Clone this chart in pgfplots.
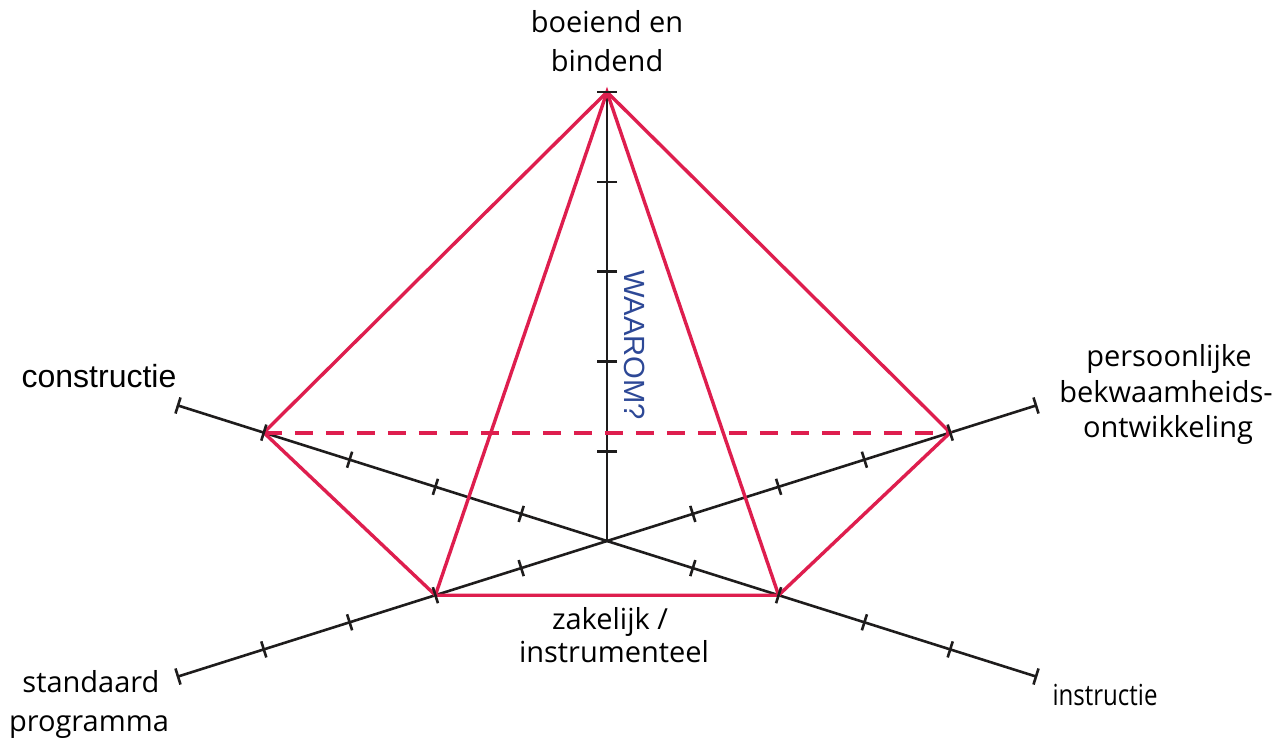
\documentclass[border=0pt]{standalone}
\usepackage{pgfplots}
\pgfplotsset{compat=1.18}
\usepackage{fontspec}
\setmainfont{Open Sans}
\newfontfamily\arial{Liberation Sans}
\definecolor{pyr}{RGB}{222,30,78}
\definecolor{waarom}{RGB}{45,72,150}
\definecolor{axisblack}{RGB}{30,28,28}

\begin{document}
\begin{tikzpicture}
\begin{axis}[
    scale only axis,
    width=639.5pt, height=370.5pt,
    xmin=0, xmax=1279, ymin=0, ymax=741,
    hide axis, clip=false,
    ]
% axis lines
\addplot[axisblack, line width=1.3pt] coordinates {(607,200) (607,649)};
\addplot[axisblack, line width=1.3pt] coordinates {(178,335.5) (1036,64.5)};
\addplot[axisblack, line width=1.3pt] coordinates {(178,64.5) (1036,335.5)};
% tick marks
\addplot[only marks, mark=-, mark size=5pt, mark options={axisblack, line width=1.3pt}]
    coordinates {(607,289.8) (607,379.6) (607,469.4) (607,559.2) (607,649)};
\addplot[only marks, mark=|, mark size=4.2pt, mark options={axisblack, line width=1.3pt, rotate=-17.5}]
    coordinates {(521.2,227.1) (435.4,254.2) (349.6,281.3) (263.8,308.4) (178,335.5)
                 (692.8,172.9) (778.6,145.8) (864.4,118.7) (950.2,91.6) (1036,64.5)};
\addplot[only marks, mark=|, mark size=4.2pt, mark options={axisblack, line width=1.3pt, rotate=17.5}]
    coordinates {(521.2,172.9) (435.4,145.8) (349.6,118.7) (263.8,91.6) (178,64.5)
                 (692.8,227.1) (778.6,254.2) (864.4,281.3) (950.2,308.4) (1036,335.5)};
% pyramid
\addplot[pyr, line width=1.7pt, line join=round] coordinates {
    (263.8,308.4) (607,649) (950.2,308.4) (778.6,145.8) (435.4,145.8) (263.8,308.4)};
\addplot[pyr, line width=1.7pt] coordinates {(435.4,145.8) (607,649) (778.6,145.8)};
\addplot[pyr, line width=2.1pt, dash pattern=on 9pt off 6.5pt] coordinates {(263.8,308.4) (950.2,308.4)};
% labels
\node[anchor=base, font=\fontsize{14.5}{17}\selectfont] at (axis cs:607,708) {boeiend en};
\node[anchor=base, font=\fontsize{14.5}{17}\selectfont] at (axis cs:607,669.5) {bindend};
\node[anchor=base, font=\fontsize{14.5}{17}\selectfont] at (axis cs:610,112) {zakelijk /};
\node[anchor=base, font=\fontsize{14.5}{17}\selectfont] at (axis cs:614,78.5) {instrumenteel};
\node[anchor=base, font=\fontsize{14.5}{17}\selectfont] at (axis cs:91,49) {standaard};
\node[anchor=base, font=\fontsize{14.5}{17}\selectfont] at (axis cs:89,10) {programma};
\node[anchor=base, font=\fontsize{14.5}{17}\selectfont] at (axis cs:1169,375) {persoonlijke};
\node[anchor=base, font=\fontsize{14.5}{17}\selectfont] at (axis cs:1166,339) {bekwaamheids-};
\node[anchor=base, font=\fontsize{14.5}{17}\selectfont] at (axis cs:1168,304) {ontwikkeling};
\node[anchor=base, xscale=0.83, font=\fontsize{14.5}{17}\selectfont] at (axis cs:1105,36) {instructie};
\node[anchor=base, font=\arial\fontsize{16}{19}\selectfont] at (axis cs:99,354) {constructie};
\node[rotate=-90, text=waarom, inner sep=0pt, font=\arial\fontsize{14.6}{17}\selectfont] at (axis cs:635,396) {WAAROM?};
\end{axis}
\pgfresetboundingbox
\path (current axis.south west) rectangle (current axis.north east);
\end{tikzpicture}
\end{document}
